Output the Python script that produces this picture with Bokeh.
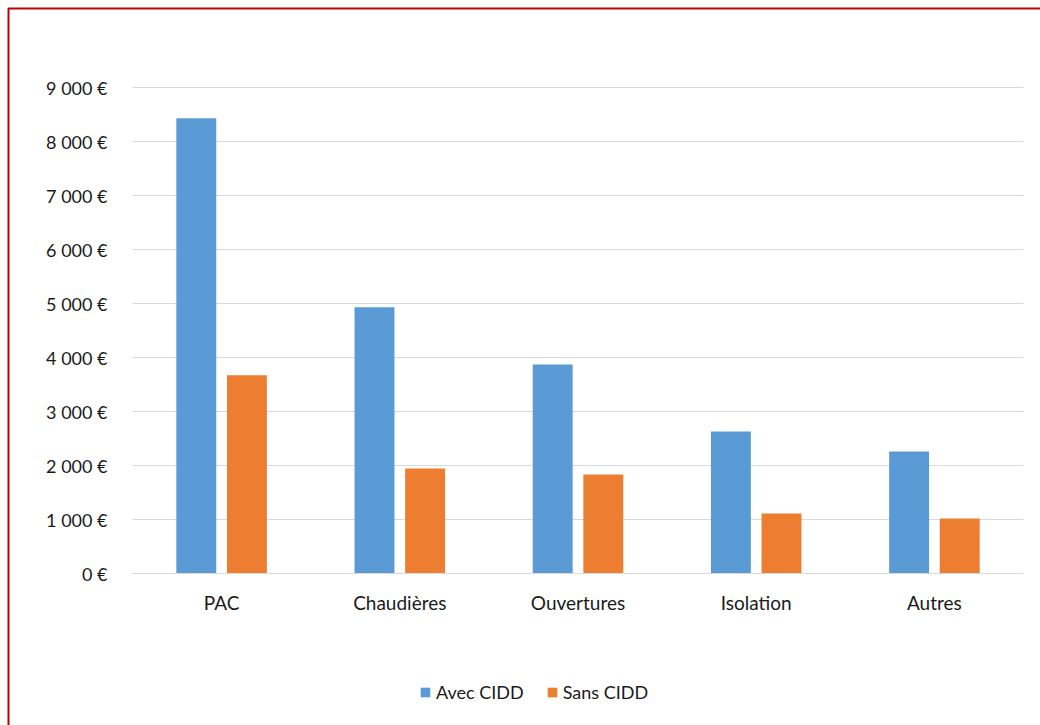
from bokeh.plotting import figure
from bokeh.models import Range1d, FixedTicker, Legend, LegendItem
from bokeh.embed import file_html
from bokeh.resources import INLINE

categories = ["PAC", "Chaudières", "Ouvertures", "Isolation", "Autres"]
avec_cidd = [8430, 4930, 3870, 2630, 2260]
sans_cidd = [3670, 1945, 1835, 1110, 1020]
series_names = ["Avec CIDD", "Sans CIDD"]
y_ticks = [0, 1000, 2000, 3000, 4000, 5000, 6000, 7000, 8000, 9000]
y_tick_labels = ["0 €", "1 000 €", "2 000 €", "3 000 €", "4 000 €",
                 "5 000 €", "6 000 €", "7 000 €", "8 000 €", "9 000 €"]

FONT = "Lato"
TXT = "#1a1a1a"
W, H = 1040, 725

# layout of the plotting area (pixels): category axis from x=132 to 1023, value 0 at y=573, 9000 at y=87
PX_LEFT, PX_RIGHT, PX_ZERO, PX_TOP = 132, 1023, 573, 87
ncat = len(categories)
x_scale = (PX_RIGHT - PX_LEFT) / ncat
y_scale = (PX_ZERO - PX_TOP) / y_ticks[-1]
x0 = -PX_LEFT / x_scale
x1 = (W - PX_LEFT) / x_scale
y1 = y_ticks[-1] + PX_TOP / y_scale
y0 = -(H - PX_ZERO) / y_scale

def px_to_x(px):
    return x0 + px / x_scale

def px_to_y(py):
    return y1 - py / y_scale

p = figure(x_range=Range1d(x0, x1), y_range=Range1d(y0, y1),
           width=W, height=H, output_backend="svg", toolbar_location=None,
           min_border=0)
p.outline_line_color = None
p.background_fill_color = "white"
p.border_fill_color = "white"
p.xgrid.grid_line_color = None
p.ygrid.grid_line_color = None

centers = [i + 0.5 for i in range(ncat)]

# horizontal gridlines limited to the plot area
p.segment(x0=[0] * len(y_ticks), x1=[ncat] * len(y_ticks), y0=y_ticks, y1=y_ticks,
          line_color="#D9D9D9", line_width=1, level="underlay")

r1 = p.vbar(x=[c - 0.142 for c in centers], top=avec_cidd, width=0.224,
            fill_color="#5B9BD5", line_color=None)
r2 = p.vbar(x=[c + 0.142 for c in centers], top=sans_cidd, width=0.224,
            fill_color="#ED7D31", line_color=None)

# red chart-area border (top and left edges; the rest lies outside the window)
bx, by = px_to_x(8), px_to_y(8)
p.line(x=[bx, bx, x1 + 1], y=[y0 - 1000, by, by], line_color="#C00000", line_width=2)

p.yaxis.fixed_location = 0
p.yaxis.ticker = FixedTicker(ticks=y_ticks)
p.yaxis.major_label_overrides = {t: l for t, l in zip(y_ticks, y_tick_labels)}
p.yaxis.axis_line_color = None
p.yaxis.major_tick_line_color = None
p.yaxis.minor_tick_line_color = None
p.yaxis.major_label_standoff = 19
p.yaxis.major_label_text_font_size = "18px"

p.xaxis.fixed_location = 0
p.xaxis.bounds = (0, ncat)
p.xaxis.ticker = FixedTicker(ticks=centers)
p.xaxis.major_label_overrides = {c: n for c, n in zip(centers, categories)}
p.xaxis.axis_line_color = "#D9D9D9"
p.xaxis.major_tick_line_color = None
p.xaxis.minor_tick_line_color = None
p.xaxis.major_label_standoff = 11
p.xaxis.major_label_text_font_size = "19px"
for ax in (p.xaxis, p.yaxis):
    ax.major_label_text_font = FONT
    ax.major_label_text_color = TXT

legend = Legend(items=[LegendItem(label=series_names[0], renderers=[r1]),
                       LegendItem(label=series_names[1], renderers=[r2])],
                orientation="horizontal", location=(419, 22), padding=0, margin=0,
                label_text_font=FONT, label_text_font_size="18px", label_text_color=TXT,
                glyph_width=12, glyph_height=12, label_standoff=5, spacing=22,
                border_line_color=None, background_fill_alpha=0)
p.add_layout(legend, "center")

open("out.html", "w").write(file_html(p, INLINE))
